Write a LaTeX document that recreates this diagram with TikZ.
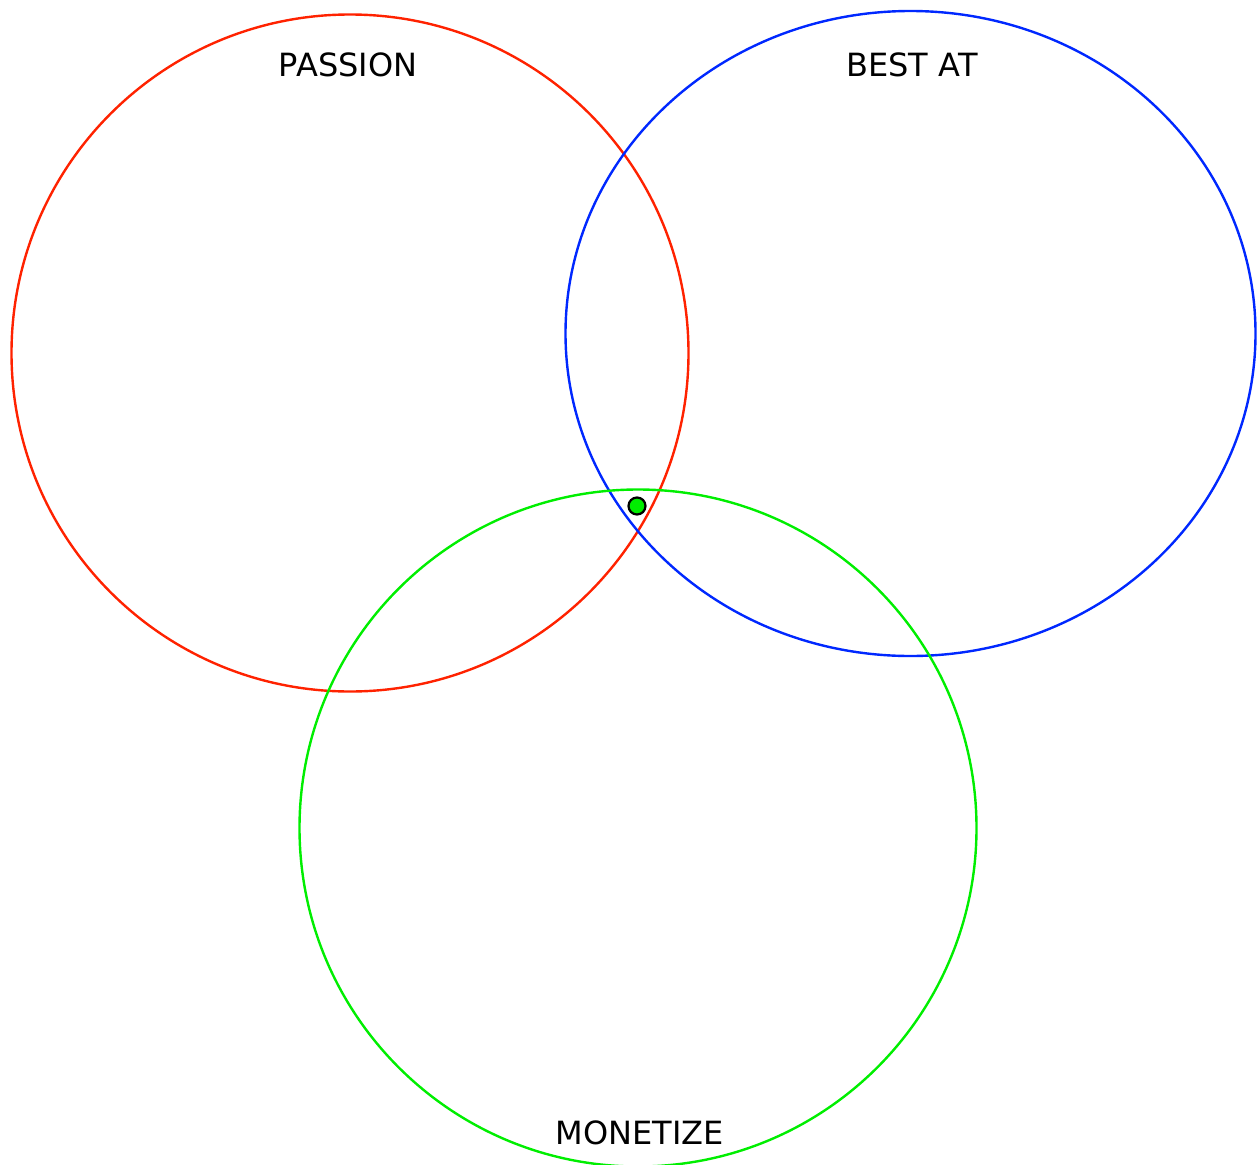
\documentclass[tikz,border=0pt]{standalone}
\usepackage{fontspec}
\setmainfont{DejaVu Sans}
\usetikzlibrary{positioning}
\definecolor{passionred}{RGB}{255,34,0}
\definecolor{bestblue}{RGB}{0,40,255}
\definecolor{moneygreen}{RGB}{0,238,0}

\begin{document}
\begin{tikzpicture}[x=1pt,y=-1pt,
  font=\fontsize{32}{38}\selectfont,
  ring/.style={line width=2.4pt},
  label/.style={anchor=base,inner sep=0pt}]
  \useasboundingbox (0,0) rectangle (1257,1164);
  \begin{scope}
    \clip (0,0) rectangle (1257,1164);
    \draw[ring,passionred] (350,353) circle[radius=338.5];
    \draw[ring,bestblue] (910.5,333.5) ellipse[x radius=345, y radius=322.5];
    \draw[ring,moneygreen] (638,828) circle[radius=338.5];
  \end{scope}
  \node[label] (passion) at (348,76) {PASSION};
  \node[label] (bestat) at (912,76) {BEST AT};
  \node[label] (monetize) at (640,1144) {MONETIZE};
  \node[circle,draw=black,line width=2.2pt,fill=moneygreen,
    minimum size=17pt,inner sep=0pt] (dot) at (637,506) {};
\end{tikzpicture}
\end{document}
